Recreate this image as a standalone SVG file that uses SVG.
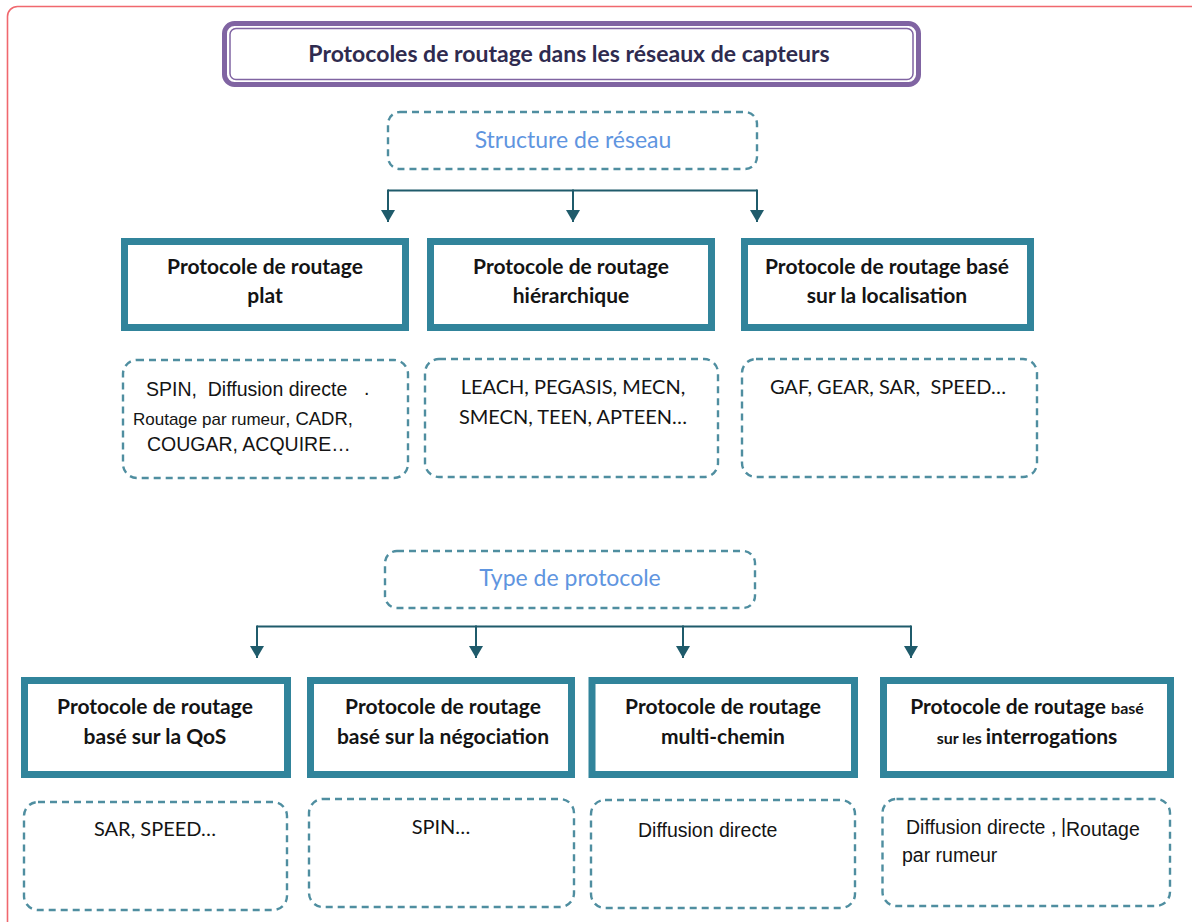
<svg xmlns="http://www.w3.org/2000/svg" width="1192" height="922" viewBox="0 0 1192 922">
<defs>
<style>
.frame{fill:none;stroke:#f0686e;stroke-width:1.6}
.cat{fill:#fff;stroke:#31849b;stroke-width:7}
.dash{fill:#fff;stroke:#4f8ea0;stroke-width:2.4;stroke-dasharray:7 5}
.conn{fill:none;stroke:#1f5b6b;stroke-width:2}
.title{font-family:Lato,"Liberation Sans",sans-serif;font-weight:bold;font-size:23px;fill:#2f2b4f}
.sub{font-family:Lato,"Liberation Sans",sans-serif;font-size:23px;fill:#5f95e0}
.bt{font-family:Lato,"Liberation Sans",sans-serif;font-weight:bold;font-size:21px;fill:#141414}
.cal{font-family:Lato,"Liberation Sans",sans-serif;font-size:20px;fill:#141414}
.ar{font-family:"Liberation Sans",Arial,sans-serif;font-size:19.5px;fill:#141414}
</style>
<marker id="arr" markerUnits="userSpaceOnUse" viewBox="0 0 12 14" refX="12" refY="7" markerWidth="12" markerHeight="14" orient="auto">
<path d="M0,0 L12,7 L0,14 z" fill="#1f5b6b"/>
</marker>
</defs>
<rect class="frame" x="7.5" y="6.5" width="1195" height="925" rx="10"/>

<g id="title">
<rect x="224.5" y="23.5" width="694" height="61" rx="10" fill="#fff" stroke="#8064a2" stroke-width="5"/>
<rect x="230" y="28.5" width="683" height="51" rx="6" fill="none" stroke="#8064a2" stroke-width="1.5"/>
<text class="title" x="569" y="62" text-anchor="middle">Protocoles de routage dans les réseaux de capteurs</text>
</g>

<g id="structure">
<rect class="dash" x="388" y="112" width="369" height="57" rx="12"/>
<text class="sub" x="573" y="148" text-anchor="middle">Structure de réseau</text>
</g>

<g id="connectors">
<line class="conn" x1="388" y1="190.5" x2="757" y2="190.5"/>
<line class="conn" x1="388" y1="189.5" x2="388" y2="222" marker-end="url(#arr)"/>
<line class="conn" x1="573" y1="189.5" x2="573" y2="222" marker-end="url(#arr)"/>
<line class="conn" x1="757" y1="189.5" x2="757" y2="222" marker-end="url(#arr)"/>
<line class="conn" x1="257" y1="626.5" x2="911" y2="626.5"/>
<line class="conn" x1="257" y1="625.5" x2="257" y2="658" marker-end="url(#arr)"/>
<line class="conn" x1="476" y1="625.5" x2="476" y2="658" marker-end="url(#arr)"/>
<line class="conn" x1="683" y1="625.5" x2="683" y2="658" marker-end="url(#arr)"/>
<line class="conn" x1="911" y1="625.5" x2="911" y2="658" marker-end="url(#arr)"/>
</g>

<g id="plat">
<rect class="cat" x="124.5" y="241.5" width="281" height="86"/>
<text class="bt" x="265" y="274" text-anchor="middle">Protocole de routage</text>
<text class="bt" x="265" y="303" text-anchor="middle">plat</text>
</g>
<g id="hierarchique">
<rect class="cat" x="430.5" y="241.5" width="281" height="86"/>
<text class="bt" x="571" y="274" text-anchor="middle">Protocole de routage</text>
<text class="bt" x="571" y="303" text-anchor="middle">hiérarchique</text>
</g>
<g id="localisation">
<rect class="cat" x="744.5" y="241.5" width="286" height="86"/>
<text class="bt" x="887" y="274" text-anchor="middle">Protocole de routage basé</text>
<text class="bt" x="887" y="303" text-anchor="middle">sur la localisation</text>
</g>

<g id="ex-plat">
<rect class="dash" x="123" y="360" width="285" height="118" rx="14"/>
<text class="ar" x="146" y="396" xml:space="preserve">SPIN,  Diffusion directe</text>
<text class="ar" x="364" y="395" font-size="10" fill="#777">.</text>
<text class="ar" x="133" y="425"><tspan font-size="17">Routage par rumeur</tspan><tspan font-size="18.5">, CADR,</tspan></text>
<text class="ar" x="147" y="451">COUGAR, ACQUIRE…</text>
</g>
<g id="ex-hier">
<rect class="dash" x="425" y="359" width="293" height="118" rx="14"/>
<text class="cal" x="573" y="394" text-anchor="middle">LEACH, PEGASIS, MECN,</text>
<text class="cal" x="573" y="424" text-anchor="middle">SMECN, TEEN, APTEEN…</text>
</g>
<g id="ex-loc">
<rect class="dash" x="742" y="359" width="295" height="118" rx="14"/>
<text class="cal" x="888" y="394" text-anchor="middle" xml:space="preserve">GAF, GEAR, SAR,  SPEED…</text>
</g>

<g id="type">
<rect class="dash" x="385" y="551" width="370" height="57" rx="12"/>
<text class="sub" x="570" y="586" text-anchor="middle">Type de protocole</text>
</g>

<g id="qos">
<rect class="cat" x="24.5" y="680.5" width="263" height="94"/>
<text class="bt" x="155" y="714" text-anchor="middle">Protocole de routage</text>
<text class="bt" x="155" y="744" text-anchor="middle">basé sur la QoS</text>
</g>
<g id="negociation">
<rect class="cat" x="310.5" y="680.5" width="261" height="94"/>
<text class="bt" x="443" y="714" text-anchor="middle">Protocole de routage</text>
<text class="bt" x="443" y="744" text-anchor="middle">basé sur la négociation</text>
</g>
<g id="multichemin">
<rect class="cat" x="592" y="680.5" width="262.5" height="94"/>
<text class="bt" x="723" y="714" text-anchor="middle">Protocole de routage</text>
<text class="bt" x="723" y="744" text-anchor="middle">multi-chemin</text>
</g>
<g id="interrogations">
<rect class="cat" x="883.5" y="680.5" width="287" height="94"/>
<text class="bt" x="1027" y="714" text-anchor="middle">Protocole de routage <tspan font-size="16">basé</tspan></text>
<text class="bt" x="1027" y="744" text-anchor="middle"><tspan font-size="16">sur les </tspan>interrogations</text>
</g>

<g id="ex-qos">
<rect class="dash" x="24" y="802" width="263" height="108" rx="14"/>
<text class="cal" x="155" y="836" text-anchor="middle">SAR, SPEED…</text>
</g>
<g id="ex-nego">
<rect class="dash" x="309" y="799" width="265" height="108" rx="14"/>
<text class="cal" x="441" y="834" text-anchor="middle">SPIN…</text>
</g>
<g id="ex-multi">
<rect class="dash" x="591" y="800" width="264" height="108" rx="14"/>
<text class="ar" x="638" y="837">Diffusion directe</text>
</g>
<g id="ex-interr">
<rect class="dash" x="882.5" y="799" width="287.5" height="107" rx="14"/>
<text class="ar" x="906" y="834">Diffusion directe ,</text>
<text class="ar" x="1061" y="833" font-size="14" fill="#e8a060">|</text>
<text class="ar" x="1066" y="836">Routage</text>
<text class="ar" x="902" y="862">par rumeur</text>
</g>
</svg>
